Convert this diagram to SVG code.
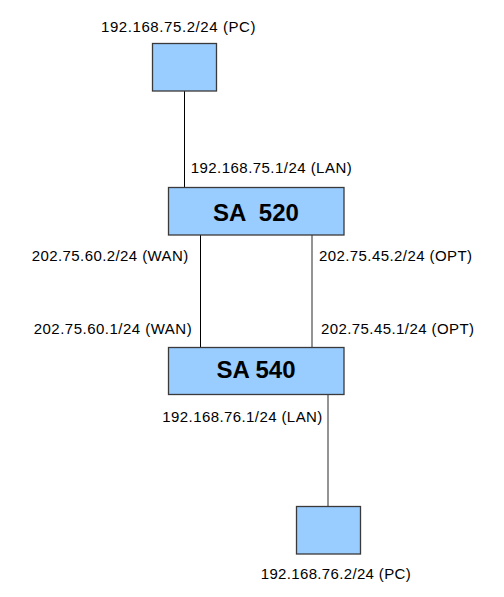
<svg xmlns="http://www.w3.org/2000/svg" width="504" height="597" viewBox="0 0 504 597">
<style>
.box{fill:#99ccff;stroke:#3a3a3a;stroke-width:1.3}
.lbl{font-family:"Liberation Sans",Arial,sans-serif;font-size:15px;fill:#000}
.big{font-family:"Liberation Sans",Arial,sans-serif;font-size:24px;font-weight:bold;fill:#000;text-anchor:middle}
.ln{stroke:#000;stroke-width:1;fill:none}
.lg{stroke:#707070;stroke-width:1.5;fill:none}
</style>
<rect width="504" height="597" fill="#fff"/>
<g id="connectors">
<line class="ln" x1="184.5" y1="91" x2="184.5" y2="187"/>
<line class="ln" x1="200.5" y1="235" x2="200.5" y2="347"/>
<line class="lg" x1="312" y1="235" x2="312" y2="347"/>
<line class="lg" x1="328" y1="394" x2="328" y2="506"/>
</g>
<g id="pc1">
<rect class="box" x="152.5" y="43.5" width="64" height="47.5"/>
<text class="lbl" x="101" y="32" textLength="154.5">192.168.75.2/24 (PC)</text>
</g>
<g id="sa520">
<rect class="box" x="168.5" y="187.5" width="175.5" height="47.5"/>
<text class="big" x="256" y="221" xml:space="preserve">SA  520</text>
</g>
<g id="sa540">
<rect class="box" x="168.5" y="347.5" width="175.5" height="47"/>
<text class="big" x="256" y="377.5">SA 540</text>
</g>
<g id="pc2">
<rect class="box" x="296.5" y="506.5" width="64" height="47.5"/>
<text class="lbl" x="260.7" y="579" textLength="150">192.168.76.2/24 (PC)</text>
</g>
<g id="labels">
<text class="lbl" x="190.7" y="173" textLength="161">192.168.75.1/24 (LAN)</text>
<text class="lbl" x="31.7" y="261" textLength="156.6">202.75.60.2/24 (WAN)</text>
<text class="lbl" x="319" y="261" textLength="153">202.75.45.2/24 (OPT)</text>
<text class="lbl" x="33.7" y="333.5" textLength="158">202.75.60.1/24 (WAN)</text>
<text class="lbl" x="321" y="333.5" textLength="153">202.75.45.1/24 (OPT)</text>
<text class="lbl" x="162.3" y="422" textLength="160">192.168.76.1/24 (LAN)</text>
</g>
</svg>
